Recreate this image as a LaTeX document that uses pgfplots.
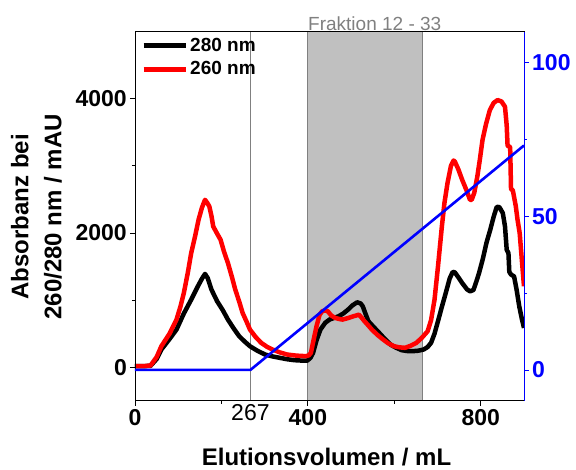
\documentclass[border=0pt]{standalone}
\usepackage{fontspec}
\setmainfont{Liberation Sans}
\usepackage{pgfplots}
\usepackage{pgfplotstable}
\pgfplotsset{compat=1.18}
\definecolor{shade}{HTML}{C0C0C0}
\definecolor{edge}{HTML}{808080}
\newcommand\tickfont{\fontsize{23}{23}\selectfont\bfseries}

% absorbance at 280 nm (mAU) vs elution volume (mL)
\pgfplotstableread{
x y
0 15
20 15
36 20
50 120
61 263
80 420
96 560
113 800
130 1006
145 1200
155 1320
162 1390
168 1330
177 1155
190 982
203 850
215 709
228 580
241 461
254 380
266 312
283 245
301 188
318 160
335 139
352 118
369 104
385 98
399 99
406 140
412 213
420 400
429 560
440 660
450 709
461 735
471 758
482 800
493 858
503 920
514 967
522 950
527 907
533 800
540 684
552 600
565 511
578 420
591 337
604 290
617 253
630 240
642 238
655 245
668 263
677 300
685 362
693 500
702 709
710 900
719 1106
728 1320
735 1420
740 1413
748 1340
757 1254
768 1160
775 1130
783 1150
790 1280
796 1403
805 1620
813 1849
822 2050
830 2246
837 2390
843 2385
851 2296
856 2100
860 1750
864 1700
866 1420
870 1380
877 1353
883 1150
889 907
895 720
900 585
}\absA

% absorbance at 260 nm (mAU)
\pgfplotstableread{
x y
0 15
20 15
36 25
50 150
61 312
80 500
96 709
105 900
113 1106
122 1400
130 1700
139 1950
147 2196
155 2380
162 2494
167 2450
172 2395
177 2250
181 2097
190 1990
198 1899
206 1720
215 1552
224 1350
232 1155
241 980
249 808
258 680
266 560
279 450
292 362
305 305
318 263
335 220
352 188
373 172
395 164
402 175
407 213
413 400
420 610
427 780
433 833
440 845
446 833
454 770
463 734
471 720
480 709
492 730
505 758
512 770
518 783
524 740
531 684
540 620
548 560
561 480
574 412
586 355
599 312
612 295
625 288
638 320
651 362
664 440
677 535
685 700
693 1006
701 1500
710 2097
716 2450
723 2742
731 3000
737 3080
740 3064
748 2950
757 2792
768 2620
775 2494
779 2494
785 2600
792 2841
798 3100
804 3386
812 3620
821 3832
830 3940
839 3981
848 3960
856 3882
860 3600
862 3300
868 3280
870 2650
874 2640
881 2400
885 2200
890 1998
895 1600
900 1205
}\absB

\begin{document}
\begin{tikzpicture}
\useasboundingbox (-135pt,-69.3pt) rectangle (441pt,400.7pt);
\begin{axis}[
  scale only axis, width=389pt, height=369pt,
  xmin=0, xmax=900, ymin=-500, ymax=5000,
  axis on top,
  axis line style={line width=0.8pt},
  tick align=outside, xtick pos=bottom, ytick pos=left,
  major tick length=5pt, minor tick length=3pt,
  every tick/.style={black, line width=0.8pt},
  xtick={0,400,800}, minor xtick={200,600},
  ytick={0,2000,4000}, minor ytick={1000,3000},
  extra x ticks={267}, extra x tick labels={\textmd{267}},
  extra x tick style={major tick length=0pt},
  /pgf/number format/assume math mode=true,
  /pgf/number format/1000 sep={},
  ticklabel style={font=\tickfont},
  xticklabel style={inner sep=4pt},
  yticklabel style={inner sep=3pt},
  legend style={at={(axis description cs:0,1)}, anchor=north west,
    xshift=3pt, yshift=-2pt, draw=none, fill=none,
    font=\fontsize{19}{19}\selectfont\bfseries, row sep=5pt,
    nodes={inner sep=2pt}},
  legend cell align=left,
  legend image code/.code={\draw[#1, line width=5pt] (0pt,0pt) -- (42pt,0pt);},
]
  \addplot[fill=shade, draw=none, forget plot] coordinates {(400,-500) (400,5000) (665,5000) (665,-500)};
  \addplot[edge, line width=0.8pt, forget plot] coordinates {(400,-500) (400,5000)};
  \addplot[edge, line width=0.8pt, forget plot] coordinates {(665,-500) (665,5000)};
  \addplot[edge, line width=0.7pt, forget plot] coordinates {(267,-500) (267,5000)};
  \addplot[black, line width=4.5pt, line join=round] table {\absA};
  \addlegendentry{280 nm}
  \addplot[red, line width=4.5pt, line join=round] table {\absB};
  \addlegendentry{260 nm}
\end{axis}
\begin{axis}[
  scale only axis, width=389pt, height=369pt,
  xmin=0, xmax=900, ymin=-10, ymax=110,
  axis x line=none, axis y line*=right,
  y axis line style={blue, line width=0.8pt},
  tick align=outside,
  major tick length=5pt, minor tick length=3pt,
  every tick/.style={blue, line width=0.8pt},
  ytick={0,50,100}, minor ytick={25,75},
  /pgf/number format/assume math mode=true,
  yticklabel style={font=\tickfont, text=blue, inner sep=3pt},
]
  \addplot[blue, line width=2.6pt] coordinates {(0,0) (267,0) (900,73)};
\end{axis}
\node[anchor=base west, inner sep=0pt, text=edge, font=\fontsize{19}{19}\selectfont]
  at (173pt,370.5pt) {Fraktion 12 - 33};
\node[rotate=90, anchor=south, align=center, inner sep=0pt,
  font=\fontsize{24}{33}\selectfont\bfseries]
  at (-73pt,184pt) {Absorbanz bei\\260/280 nm / mAU};
\node[anchor=base, inner sep=0pt, font=\fontsize{24}{24}\selectfont\bfseries]
  at (191.5pt,-65pt) {Elutionsvolumen / mL};
\end{tikzpicture}
\end{document}
